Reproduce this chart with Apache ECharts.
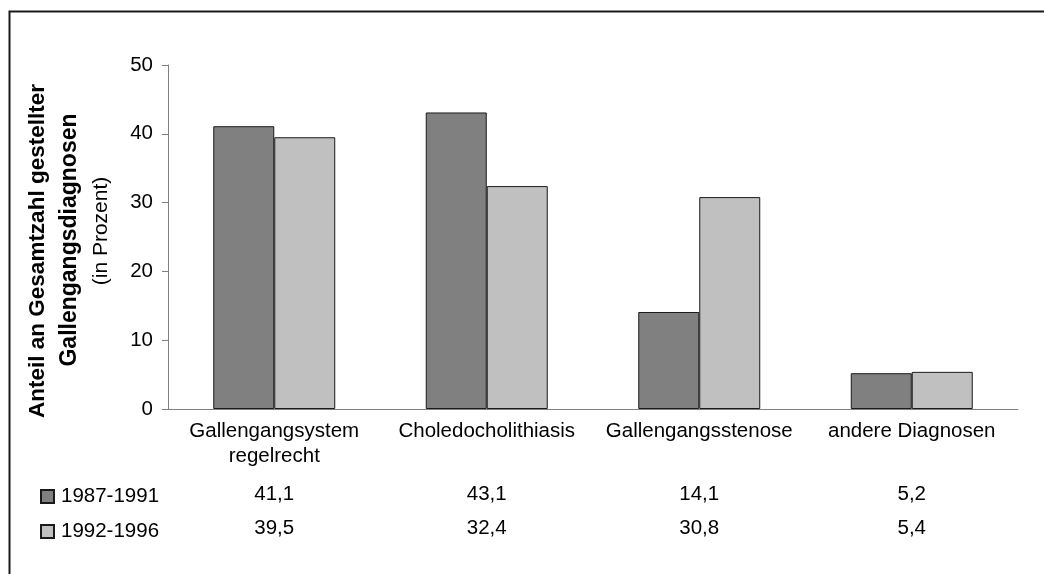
<!DOCTYPE html>
<html>
<head>
<meta charset="utf-8">
<script src="https://cdn.jsdelivr.net/npm/echarts@6/dist/echarts.min.js"></script>
<style>
  html, body { margin: 0; padding: 0; background: #fff; }
  #chart { width: 1044px; height: 574px; }
</style>
</head>
<body>
<div id="chart"></div>
<script>
// Diagnoses of the bile duct, share of all diagnoses (percent)
const categories = ['Gallengangsystem\nregelrecht', 'Choledocholithiasis', 'Gallengangsstenose', 'andere Diagnosen'];
const periodA = '1987-1991';
const periodB = '1992-1996';
const valuesA = [41.1, 43.1, 14.1, 5.2];
const valuesB = [39.5, 32.4, 30.8, 5.4];
const yTicks = { min: 0, max: 50, interval: 10 };

const FONT = '"Liberation Sans", Arial, sans-serif';
const FS = 20.5;
const fmt = v => v.toFixed(1).replace('.', ',');

const chart = echarts.init(document.getElementById('chart'), null, { renderer: 'canvas' });

chart.setOption({
  animation: false,
  backgroundColor: '#ffffff',
  textStyle: { fontFamily: FONT },
  grid: { left: 168, right: 26, top: 65, bottom: 165, containLabel: false },
  legend: {
    orient: 'vertical',
    left: 35,
    top: 481,
    itemWidth: 13,
    itemHeight: 13,
    itemGap: 14,
    icon: 'rect',
    data: [periodA, periodB],
    textStyle: { fontFamily: FONT, fontSize: FS, color: '#000', lineHeight: 20, padding: [0, 0, 0, 2] },
    selectedMode: false
  },
  xAxis: {
    type: 'category',
    data: categories,
    axisLine: { lineStyle: { color: '#808080', width: 1 } },
    axisTick: { show: false },
    axisLabel: {
      interval: 0,
      margin: 10,
      color: '#000',
      fontFamily: FONT,
      fontSize: FS,
      lineHeight: 25
    }
  },
  yAxis: {
    type: 'value',
    min: yTicks.min,
    max: yTicks.max,
    interval: yTicks.interval,
    splitLine: { show: false },
    axisLine: { show: true, lineStyle: { color: '#808080', width: 1 } },
    axisTick: { show: true, inside: false, length: 6, lineStyle: { color: '#808080' } },
    axisLabel: { margin: 15, color: '#000', fontFamily: FONT, fontSize: FS }
  },
  series: [
    {
      name: periodA,
      type: 'bar',
      data: valuesA,
      barGap: '0%',
      barCategoryGap: '42.6%',
      itemStyle: { color: '#808080', borderColor: '#1a1a1a', borderWidth: 1 }
    },
    {
      name: periodB,
      type: 'bar',
      data: valuesB,
      itemStyle: { color: '#c0c0c0', borderColor: '#1a1a1a', borderWidth: 1 }
    },
    {
      // data table below the category labels
      name: 'table',
      type: 'custom',
      silent: true,
      clip: false,
      data: categories.map((c, i) => [i, valuesA[i], valuesB[i]]),
      encode: { x: 0, y: 1 },
      renderItem: function (params, api) {
        const x = api.coord([api.value(0), 0])[0];
        const style = { fill: '#000', font: FS + 'px ' + FONT, textAlign: 'center', textVerticalAlign: 'middle' };
        return {
          type: 'group',
          children: [
            { type: 'text', style: Object.assign({ x: x, y: 494, text: fmt(api.value(1)) }, style) },
            { type: 'text', style: Object.assign({ x: x, y: 528, text: fmt(api.value(2)) }, style) }
          ]
        };
      }
    }
  ],
  graphic: [
    {
      type: 'rect',
      shape: { x: 9.5, y: 11.5, width: 1100, height: 620 },
      style: { fill: null, stroke: '#1a1a1a', lineWidth: 2 },
      silent: true
    },
    {
      type: 'text',
      x: 38, y: 251,
      rotation: Math.PI / 2,
      style: {
        text: 'Anteil an Gesamtzahl gestellter',
        font: 'bold 22.5px ' + FONT,
        fill: '#000',
        textAlign: 'center',
        textVerticalAlign: 'middle'
      }
    },
    {
      type: 'text',
      x: 70, y: 240,
      rotation: Math.PI / 2,
      style: {
        text: 'Gallengangsdiagnosen',
        font: 'bold 23px ' + FONT,
        fill: '#000',
        textAlign: 'center',
        textVerticalAlign: 'middle'
      }
    },
    {
      type: 'text',
      x: 101, y: 231,
      rotation: Math.PI / 2,
      style: {
        text: '(in Prozent)',
        font: '21px ' + FONT,
        fill: '#000',
        textAlign: 'center',
        textVerticalAlign: 'middle'
      }
    }
  ]
});
</script>
</body>
</html>
